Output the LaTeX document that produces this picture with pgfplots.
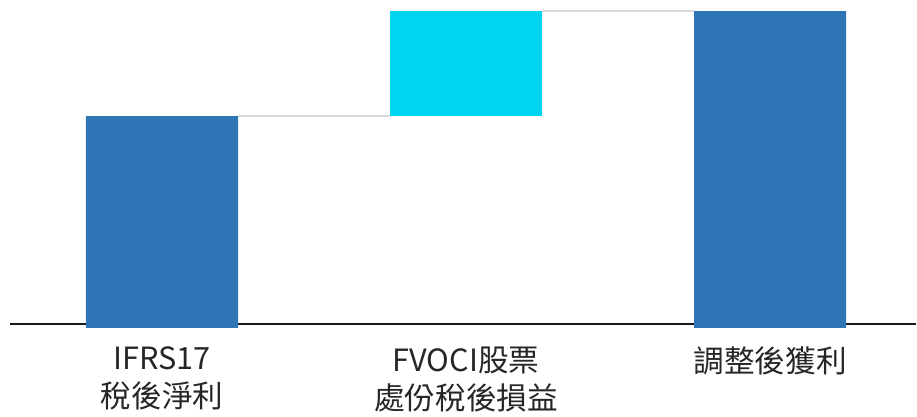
\documentclass[border=0pt]{standalone}
\usepackage{fontspec}
\setmainfont{Noto Sans CJK TC}
\usepackage{pgfplots}
\pgfplotsset{compat=1.18}
\definecolor{barblue}{HTML}{2E75B6}
\definecolor{barcyan}{HTML}{00D4F0}
\definecolor{conn}{HTML}{D9D9D9}
\begin{document}
\begin{tikzpicture}
\begin{axis}[
  scale only axis, width=680.25pt, height=246pt,
  xmin=-0.5, xmax=2.48, ymin=0, ymax=328,
  ybar stacked, bar width=0.5,
  clip=false,
  axis line style={draw=none},
  ytick=\empty,
  xtick={0,1,2},
  major tick length=0pt,
  xticklabels={{IFRS17\\稅後淨利},{FVOCI股票\\處份稅後損益},{調整後獲利}},
  xticklabel style={align=center, font=\fontsize{23}{28}\selectfont, anchor=north, yshift=-11pt, text=black!85},
]
\addplot[fill=barblue, draw=none] coordinates {(0,212)(1,0)(2,317)};
\addplot[fill=none, draw=none] coordinates {(0,0)(1,212)(2,0)};
\addplot[fill=barcyan, draw=none] coordinates {(0,0)(1,105)(2,0)};
\addplot[sharp plot, stack plots=false, conn, line width=1.5pt] coordinates {(0.25,212)(0.75,212)};
\addplot[sharp plot, stack plots=false, conn, line width=1.5pt] coordinates {(1.25,317)(1.75,317)};
\addplot[sharp plot, stack plots=false, black!90, line width=1.5pt] coordinates {(-0.5,4)(2.48,4)};
\path (rel axis cs:0,0) ++(-7.5pt,-63.75pt);
\path (rel axis cs:1,1);
\end{axis}
\end{tikzpicture}
\end{document}
